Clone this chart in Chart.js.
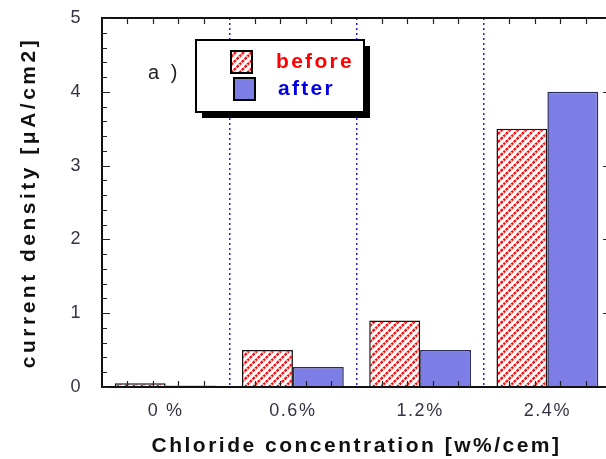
<!DOCTYPE html>
<html lang="en">
<head>
    <meta charset="UTF-8">
    <title>Current density vs chloride</title>
    <script src="https://cdn.jsdelivr.net/npm/chart.js"></script>
    <style>
        html, body { margin: 0; background: #fff; overflow: hidden; }
        /* frame runs a little past the right edge, as in the original crop */
        .wrap { width: 611px; height: 459px; }
    </style>
</head>
<body>
    <div class="wrap"><canvas id="chart"></canvas></div>

    <script>
        // data
        const categories = ["0 %", "0.6%", "1.2%", "2.4%"];
        const before = [0.05, 0.5, 0.9, 3.5];
        const after = [0.02, 0.27, 0.5, 4.0];
        const yMin = 0, yMax = 5;

        const FONT = "'Liberation Sans', Arial, sans-serif";

        // red diagonal hatch for the "before" bars
        function makeHatch() {
            const s = 8;
            const c = document.createElement("canvas");
            c.width = s; c.height = s;
            const g = c.getContext("2d");
            g.fillStyle = "#fff";
            g.fillRect(0, 0, s, s);
            g.strokeStyle = "#ff1010";
            g.lineWidth = 2.4;
            g.setLineDash([3, 1]);
            g.beginPath();
            g.moveTo(-1, s + 1); g.lineTo(s + 1, -1);
            g.moveTo(-1, 1); g.lineTo(1, -1);
            g.moveTo(s - 1, s + 1); g.lineTo(s + 1, s - 1);
            g.stroke();
            return g.createPattern(c, "repeat");
        }
        const hatch = makeHatch();

        // wide letter spacing like the original (titles get their own)
        const spacing = {
            id: "spacing",
            beforeDraw(chart) { chart.ctx.letterSpacing = "1.5px"; },
            afterUpdate(chart) {
                [["x", "2.5px"], ["y", "3.5px"]].forEach(([id, sp]) => {
                    const s = chart.scales[id];
                    if (!s || s._spaced) return;
                    const orig = s.drawTitle;
                    s.drawTitle = function () {
                        const old = this.ctx.letterSpacing;
                        this.ctx.letterSpacing = sp;
                        orig.call(this);
                        this.ctx.letterSpacing = old;
                    };
                    s._spaced = true;
                });
            }
        };

        // inward ticks on all four sides of the frame
        const frameTicks = {
            id: "frameTicks",
            afterDatasetsDraw(chart) {
                const { ctx, chartArea: a, scales: { x, y } } = chart;
                ctx.save();
                ctx.strokeStyle = "#222";
                ctx.lineWidth = 1.2;
                ctx.beginPath();
                for (let k = 0; k <= (yMax - yMin) * 5; k++) {
                    const py = Math.round(y.getPixelForValue(yMin + k * 0.2)) + 0.5;
                    const major = k % 5 === 0;
                    ctx.moveTo(a.left, py);
                    ctx.lineTo(a.left + (major ? 8 : 5), py);
                    if (major) {
                        ctx.moveTo(a.right, py);
                        ctx.lineTo(a.right - 8, py);
                    }
                }
                for (let k = 1; k < categories.length * 5; k++) {
                    if (k % 5 === 0) continue;
                    const px = Math.round(x.getPixelForValue(-0.5 + k / 5)) + 0.5;
                    ctx.moveTo(px, a.top);
                    ctx.lineTo(px, a.top + 6);
                    ctx.moveTo(px, a.bottom);
                    ctx.lineTo(px, a.bottom - 6);
                }
                ctx.stroke();
                ctx.restore();
            }
        };

        // boxed legend with drop shadow, plus the panel label
        const boxLegend = {
            id: "boxLegend",
            afterDraw(chart) {
                const ctx = chart.ctx;
                const sets = chart.data.datasets;
                ctx.save();
                ctx.fillStyle = "#000";
                ctx.fillRect(202, 46, 168, 72);
                ctx.fillStyle = "#fff";
                ctx.fillRect(196, 40, 168, 72);
                ctx.strokeStyle = "#000";
                ctx.lineWidth = 2;
                ctx.strokeRect(196, 40, 168, 72);

                const rows = [
                    { x: 231, y: 51, ty: 62, tx: 276, color: "#ff0000" },
                    { x: 234, y: 78, ty: 89, tx: 278, color: "#0000e6" }
                ];
                ctx.font = "bold 21px " + FONT;
                ctx.letterSpacing = "2.3px";
                ctx.textBaseline = "middle";
                rows.forEach((r, i) => {
                    ctx.fillStyle = sets[i].backgroundColor;
                    ctx.fillRect(r.x, r.y, 21, 22);
                    ctx.lineWidth = 2;
                    ctx.strokeStyle = "#000";
                    ctx.strokeRect(r.x, r.y, 21, 22);
                    ctx.fillStyle = r.color;
                    ctx.fillText(sets[i].label, r.tx, r.ty);
                });

                ctx.font = "20px " + FONT;
                ctx.letterSpacing = "3px";
                ctx.fillStyle = "#222";
                ctx.fillText("a )", 148, 73);
                ctx.restore();
            }
        };

        const ctx = document.getElementById("chart").getContext("2d");
        new Chart(ctx, {
            type: "bar",
            data: {
                labels: categories,
                datasets: [
                    {
                        label: "before",
                        data: before,
                        backgroundColor: hatch,
                        borderColor: "#111",
                        borderWidth: 1.5,
                        categoryPercentage: 0.8,
                        barPercentage: 1.0
                    },
                    {
                        label: "after",
                        data: after,
                        backgroundColor: "#7d7de6",
                        borderColor: "#2b2b5e",
                        borderWidth: 1.5,
                        categoryPercentage: 0.8,
                        barPercentage: 1.0
                    }
                ]
            },
            options: {
                responsive: true,
                maintainAspectRatio: false,
                animation: false,
                layout: { padding: { top: 18, right: 0, left: 0, bottom: 0 } },
                plugins: {
                    legend: { display: false },
                    tooltip: { enabled: false }
                },
                scales: {
                    x: {
                        offset: true,
                        afterFit(scale) {
                            scale.height = 72;
                            scale.paddingLeft = 0;
                            scale.paddingRight = 0;
                        },
                        grid: {
                            offset: true,
                            drawTicks: false,
                            lineWidth: 1.5,
                            color: c => (c.type === "tick" && c.index > 0) ? "#2222dd" : "rgba(0,0,0,0)"
                        },
                        border: { display: false, dash: [2, 3] },
                        ticks: {
                            padding: 13,
                            color: "#333344",
                            font: { family: FONT, size: 18 }
                        },
                        title: {
                            display: true,
                            text: "Chloride concentration [w%/cem]",
                            color: "#111",
                            font: { family: FONT, size: 21, weight: "bold" },
                            padding: { top: 0, bottom: 0 }
                        }
                    },
                    y: {
                        min: yMin,
                        max: yMax,
                        afterFit(scale) {
                            scale.width = 102;
                            scale.paddingTop = 0;
                            scale.paddingBottom = 0;
                        },
                        grid: {
                            drawTicks: false,
                            lineWidth: 2,
                            color: c => (c.tick.value === yMin || c.tick.value === yMax) ? "#111" : "rgba(0,0,0,0)"
                        },
                        border: { display: true, color: "#111", width: 2 },
                        ticks: {
                            stepSize: 1,
                            padding: 20,
                            color: "#333344",
                            font: { family: FONT, size: 18 }
                        },
                        title: {
                            display: true,
                            text: "current density [μA/cm2]",
                            color: "#111",
                            font: { family: FONT, size: 21, weight: "bold" },
                            padding: { top: 17, bottom: 0 }
                        }
                    }
                }
            },
            plugins: [spacing, frameTicks, boxLegend]
        });
    </script>
</body>
</html>
